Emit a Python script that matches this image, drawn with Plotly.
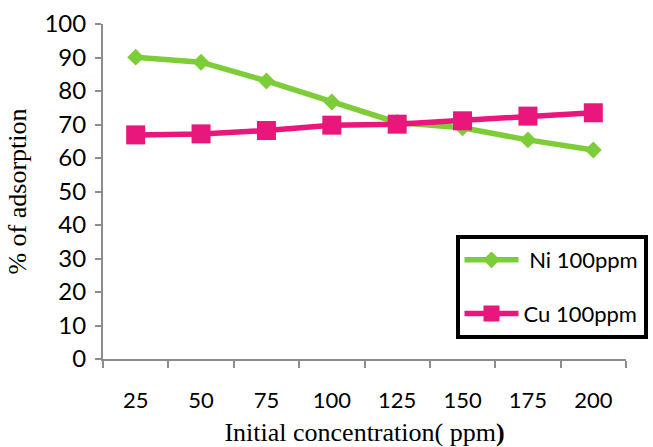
import plotly.graph_objects as go

categories = ["25", "50", "75", "100", "125", "150", "175", "200"]
ni_values = [90.1, 88.6, 83.0, 76.7, 70.6, 69.0, 65.4, 62.4]
cu_values = [66.9, 67.2, 68.2, 69.8, 70.1, 71.1, 72.5, 73.5]
y_ticks = [0, 10, 20, 30, 40, 50, 60, 70, 80, 90, 100]
series_names = ["\u00a0Ni 100ppm", "Cu 100ppm"]

ni_color = "#7dcd38"
cu_color = "#e9167b"

fig = go.Figure()
fig.add_trace(go.Scatter(
    x=categories, y=ni_values, name=series_names[0], mode="lines+markers",
    legendgroup="ni",
    line=dict(color=ni_color, width=5.5),
    marker=dict(symbol="diamond", size=13, color=ni_color),
))
fig.add_trace(go.Scatter(
    x=categories, y=cu_values, name=series_names[1], mode="lines+markers",
    legendgroup="cu",
    line=dict(color=cu_color, width=5.5),
    marker=dict(symbol="square", size=19, color=cu_color),
))

fig.update_layout(
    width=653, height=447,
    margin=dict(l=103, r=27, t=24, b=88, autoexpand=False),
    plot_bgcolor="white", paper_bgcolor="white",
    font=dict(family="Lato", size=22, color="black"),
    showlegend=True,
    legend=dict(
        x=0.674, y=0.37, xanchor="left", yanchor="top",
        bordercolor="black", borderwidth=4, bgcolor="white",
        font=dict(family="Lato", size=22, color="black"),
        itemwidth=54, tracegroupgap=22,
    ),
    xaxis=dict(
        type="category", range=[-0.5, 7.5],
        showline=True, linecolor="#8c8c8c", linewidth=2,
        ticks="outside", tickson="boundaries", ticklen=7, tickwidth=2, tickcolor="#8c8c8c",
        showgrid=False, zeroline=False,
        tickfont=dict(family="Lato", size=22),
        ticklabelstandoff=21,
        title=dict(text="Initial concentration( ppm<b>)</b>",
                   font=dict(family="Liberation Serif", size=26), standoff=11),
    ),
    yaxis=dict(
        range=[0, 100], tickvals=y_ticks,
        showline=True, linecolor="#8c8c8c", linewidth=2,
        ticks="outside", ticklen=6, tickwidth=2, tickcolor="#8c8c8c",
        showgrid=False, zeroline=False,
        tickfont=dict(family="Lato", size=24),
        ticklabelstandoff=4,
        title=dict(text="% of adsorption",
                   font=dict(family="Liberation Serif", size=26), standoff=10),
    ),
)

fig.write_html("out.html")
